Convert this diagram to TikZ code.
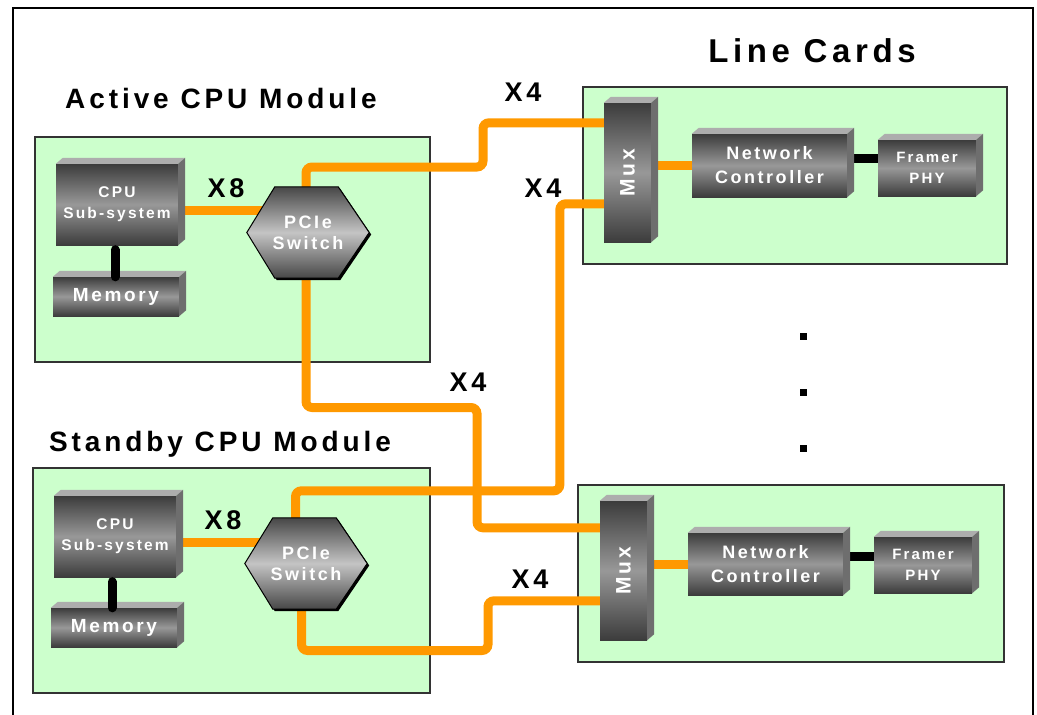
\documentclass[tikz,border=0pt]{standalone}
\usepackage{fontspec}
\setmainfont{Liberation Sans}
\newfontfamily\wide{Liberation Sans}[LetterSpace=14]
\usetikzlibrary{calc, positioning}
\definecolor{cardgreen}{HTML}{CCFFCC}
\definecolor{pcieorange}{HTML}{FF9900}
\definecolor{faceTop}{HTML}{ADADAD}
\definecolor{faceSide}{HTML}{6E6E6E}
\definecolor{chipDark}{HTML}{3C3C3C}
\definecolor{chipLight}{HTML}{989898}
\definecolor{hexDark}{HTML}{474747}
\definecolor{hexLight}{HTML}{C4C4C4}
\pgfdeclarelayer{frame}
\pgfdeclarelayer{wires}
\pgfdeclarelayer{chips}
\pgfsetlayers{frame,wires,chips,main}

\begin{document}
\begin{tikzpicture}[x=1pt, y=-1pt,
  module/.style={rectangle, draw=black!80, line width=1.2pt, fill=cardgreen, inner sep=0pt},
  chip/.style={rectangle, inner sep=0pt, align=center, text=white,
               top color=chipDark, bottom color=chipDark, middle color=chipLight},
  hexchip/.style={rectangle, inner sep=0pt, align=center, text=white,
                  minimum width=122pt, minimum height=91pt,
                  font=\wide\bfseries\fontsize{18}{21}\selectfont},
  pcie/.style={line width=9pt, pcieorange, rounded corners=6pt},
  bus/.style={line width=9pt, black},
  lanes/.style={font=\wide\bfseries\fontsize{27}{27}\selectfont, anchor=base},
  heading/.style={font=\wide\bfseries\fontsize{28}{28}\selectfont, anchor=base},
  vdot/.style={rectangle, fill=black, minimum size=7pt, inner sep=0pt}
]
\useasboundingbox (0,0) rectangle (1037,715);
\draw[line width=2.5pt] (13,715) -- (13,8) -- (1033,8) -- (1033,715);

% module and card boards
\begin{pgfonlayer}{frame}
\node[module, minimum width=395pt, minimum height=225pt] (modA) at (232.5,249.5) {};
\node[module, minimum width=397pt, minimum height=225pt] (modB) at (231.5,580.5) {};
\node[module, minimum width=424pt, minimum height=177pt] (cardA) at (795,175.5) {};
\node[module, minimum width=426pt, minimum height=177pt] (cardB) at (791,573.5) {};
\end{pgfonlayer}

\node[heading, font=\wide\bfseries\fontsize{33}{33}\selectfont] (cardsT) at (812,62) {Line Cards};
\node[heading] (activeT) at (221,108) {Active CPU Module};
\node[heading] (standbyT) at (220,451) {Standby CPU Module};

% active CPU module
\node[chip, minimum width=122pt, minimum height=81pt,
      font=\wide\bfseries\fontsize{15.5}{21}\selectfont] (cpuA) at (117,204.5) {CPU\\Sub-system};
\node[chip, minimum width=126pt, minimum height=39pt,
      font=\wide\bfseries\fontsize{19}{19}\selectfont] (memA) at (116,296.5) {Memory};
\node[hexchip] (hexA) at (308,232.5) {PCIe\\Switch};

% standby CPU module
\node[chip, minimum width=122pt, minimum height=81pt,
      font=\wide\bfseries\fontsize{15.5}{21}\selectfont] (cpuB) at (115,536.5) {CPU\\Sub-system};
\node[chip, minimum width=126pt, minimum height=39pt,
      font=\wide\bfseries\fontsize{19}{19}\selectfont] (memB) at (114,627.5) {Memory};
\node[hexchip] (hexB) at (306,563.5) {PCIe\\Switch};

% line cards
\node[chip, minimum width=47pt, minimum height=139pt,
      font=\wide\bfseries\fontsize{21}{21}\selectfont] (muxA) at (627.5,172.5) {\rotatebox{90}{Mux}};
\node[chip, minimum width=155pt, minimum height=63pt,
      font=\wide\bfseries\fontsize{18}{24}\selectfont] (ncA) at (769.5,165.5) {Network\\Controller};
\node[chip, minimum width=98pt, minimum height=56pt,
      font=\wide\bfseries\fontsize{15}{21}\selectfont] (phyA) at (927,168) {Framer\\PHY};
\node[chip, minimum width=47pt, minimum height=139pt,
      font=\wide\bfseries\fontsize{21}{21}\selectfont] (muxB) at (623.5,570.5) {\rotatebox{90}{Mux}};
\node[chip, minimum width=155pt, minimum height=62pt,
      font=\wide\bfseries\fontsize{18}{24}\selectfont] (ncB) at (765.5,564) {Network\\Controller};
\node[chip, minimum width=98pt, minimum height=56pt,
      font=\wide\bfseries\fontsize{15}{21}\selectfont] (phyB) at (923,565) {Framer\\PHY};

% 3d faces
\foreach \c in {cpuA,memA,cpuB,memB,muxA,ncA,phyA,muxB,ncB,phyB}{
  \fill[faceTop] (\c.north west) -- ++(7,-6) -- ($(\c.north east)+(7,-6)$) -- (\c.north east) -- cycle;
  \fill[faceSide] (\c.north east) -- ++(7,-6) -- ($(\c.south east)+(7,-6)$) -- (\c.south east) -- cycle;
}

\begin{pgfonlayer}{chips}
\foreach \h in {hexA,hexB}{
  \fill[black] ($(\h.west)+(2,2)$) -- ($(\h.north west)+(30,2)$) -- ($(\h.north east)+(-29,2)$)
    -- ($(\h.east)+(2,2)$) -- ($(\h.south east)+(-29,2)$) -- ($(\h.south west)+(30,2)$) -- cycle;
  \shadedraw[top color=hexDark, bottom color=hexDark, middle color=hexLight, draw=black, line width=1pt]
    (\h.west) -- ($(\h.north west)+(28,0)$) -- ($(\h.north east)+(-31,0)$)
    -- (\h.east) -- ($(\h.south east)+(-31,0)$) -- ($(\h.south west)+(28,0)$) -- cycle;
}
\end{pgfonlayer}

% pcie lanes
\begin{pgfonlayer}{wires}
\draw[pcie] ($(cpuA.east)+(0,5.5)$) -- ($(hexA.center)+(0,-22.5)$);
\draw[pcie] ($(cpuB.east)+(0,5.5)$) -- ($(hexB.center)+(0,-21.5)$);
\draw[pcie] ($(hexA.center)+(-2,0)$) -- ++(0,-65.5) -- ++(177,0) |- ($(muxA.north west)+(0,20)$);
\draw[pcie] ($(hexA.center)+(-2,0)$) -- ++(0,175) -- ++(171,0) |- ($(muxB.north west)+(0,27)$);
\draw[pcie] ($(muxA.north west)+(0,101)$) -- ++(-44,0) -- ++(0,287) -| ($(hexB.center)+(-10.5,0)$);
\draw[pcie] ($(hexB.center)+(-4.5,0)$) -- ++(0,87) -- ++(186.5,0) |- ($(muxB.north west)+(0,100)$);
\draw[pcie] (muxA.east |- ncA.west) -- (ncA.west);
\draw[pcie] (muxB.east |- ncB.west) -- (ncB.west);
\draw[bus] ($(ncA.east)+(0,-7)$) -- ($(phyA.west)+(0,-9.5)$);
\draw[bus] ($(ncB.east)+(0,-7.5)$) -- ($(phyB.west)+(0,-8.5)$);
\end{pgfonlayer}

% memory bus
\draw[line width=9pt, line cap=round] ($(cpuA.south)+(-2,4.5)$) -- ($(memA.north)+(-1,0)$);
\draw[line width=9pt, line cap=round] ($(cpuB.south)+(-3,4.5)$) -- ($(memB.north)+(-2,0)$);

\node[lanes] (x8A) at (226,197) {X8};
\node[lanes] (x8B) at (223,529) {X8};
\node[lanes] (x4a) at (523,101) {X4};
\node[lanes] (x4b) at (543,197) {X4};
\node[lanes] (x4c) at (468,391) {X4};
\node[lanes] (x4d) at (530,588) {X4};

\foreach \y [count=\i] in {336.5,392.5,448.5}
  \node[vdot] (dot\i) at (803,\y) {};

\end{tikzpicture}
\end{document}
